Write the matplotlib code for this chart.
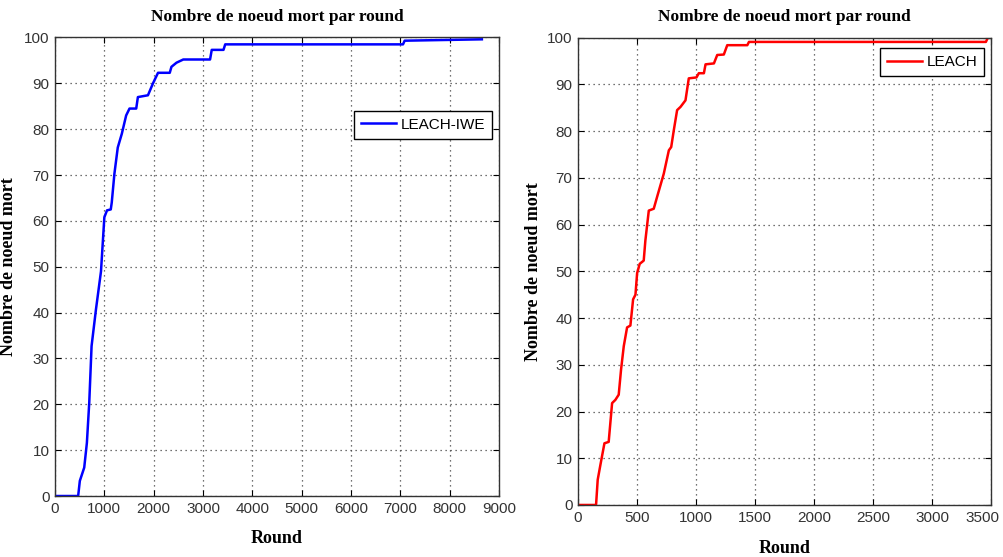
import matplotlib
matplotlib.use("Agg")
import matplotlib.pyplot as plt
from matplotlib import font_manager
from matplotlib.transforms import ScaledTranslation

# LEACH-IWE : rounds / noeuds morts
iwe_round = [0, 469, 503, 592, 646, 694, 741, 830, 932, 1000, 1054, 1130, 1150,
             1204, 1272, 1354, 1442, 1510, 1646, 1680, 1884, 1986, 2088, 2326,
             2360, 2462, 2600, 3143, 3177, 3415, 3450, 7054, 7088, 8653]
iwe_dead = [0, 0, 3.3, 6.2, 11.6, 20.4, 32.7, 40.7, 49, 60.8, 62.3, 62.5, 64,
            70.3, 76, 79, 83, 84.5, 84.5, 87, 87.4, 90, 92.3, 92.3,
            93.6, 94.5, 95.2, 95.2, 97.3, 97.3, 98.5, 98.5, 99.3, 99.6]

# LEACH
leach_round = [0, 153, 167, 190, 224, 260, 289, 317, 345, 365, 388, 416, 444,
               467, 487, 501, 523, 557, 571, 600, 642, 670, 727, 770, 790, 812,
               840, 869, 911, 939, 1004, 1024, 1067, 1081, 1152, 1180, 1236,
               1265, 1435, 1449, 3457, 3472]
leach_dead = [0, 0, 5.4, 8.6, 13.2, 13.5, 21.8, 22.5, 23.6, 29, 34, 38, 38.4,
              44, 45, 49.6, 51.6, 52.3, 56.6, 63, 63.4, 65.9, 70.9, 75.9, 76.6,
              80.2, 84.5, 85.2, 86.6, 91.3, 91.5, 92.4, 92.4, 94.3, 94.5, 96.3,
              96.4, 98.4, 98.4, 99.1, 99.1, 99.9]

installed = {f.name for f in font_manager.fontManager.ttflist}
tick_font = "Liberation Sans Narrow" if "Liberation Sans Narrow" in installed else "Liberation Sans"
serif = ["Liberation Serif", "DejaVu Serif"]

fig = plt.figure(figsize=(10.04, 5.57), dpi=100)
ax1 = fig.add_axes([0.0548, 0.1095, 0.4422, 0.8232])
ax2 = fig.add_axes([0.5757, 0.0934, 0.4113, 0.8389])


def style(ax, xmax, xstep, lx, ly):
    ax.set_xlim(0, xmax)
    ax.set_ylim(0, 100)
    ax.set_xticks(range(0, xmax + 1, xstep))
    ax.set_yticks(range(0, 101, 10))
    ax.grid(True, linestyle=(0, (1, 3)), color="#444444", linewidth=0.9)
    ax.tick_params(direction="in", top=True, right=True, length=4, width=0.8,
                   labelsize=11, colors="black", pad=4)
    for lab in ax.get_xticklabels() + ax.get_yticklabels():
        lab.set_fontfamily(tick_font)
        lab.set_color("#333333")
    for s in ax.spines.values():
        s.set_linewidth(1.0)
        s.set_color("#333333")
    ax.set_title("Nombre de noeud mort par round", family=serif,
                 fontweight="bold", fontsize=12.5, pad=12)
    ax.set_xlabel("Round", family=serif, fontweight="bold", fontsize=13)
    ax.set_ylabel("Nombre de noeud mort", family=serif, fontweight="bold", fontsize=13)
    ax.xaxis.set_label_coords(0.5, lx)
    ax.yaxis.set_label_coords(ly, 0.5)


def legend(ax, anchor):
    leg = ax.legend(loc="upper right", bbox_to_anchor=anchor, borderaxespad=0,
                    prop={"family": tick_font, "size": 11}, fancybox=False,
                    edgecolor="black", framealpha=1, handlelength=2.3,
                    borderpad=0.45, handletextpad=0.3)
    leg.get_frame().set_linewidth(1.0)


ax1.plot(iwe_round, iwe_dead, color="#0000ff", linewidth=1.8, label="LEACH-IWE")
style(ax1, 9000, 1000, -0.075, -0.086)
legend(ax1, (0.984, 0.84))

ax2.plot(leach_round, leach_dead, color="#ff0000", linewidth=1.8, label="LEACH")
style(ax2, 3500, 500, -0.075, -0.087)
legend(ax2, (0.983, 0.978))

# le dernier label (3500) touche le bord : on le decale un peu vers la gauche
last = ax2.xaxis.get_major_ticks()[-1].label1
last.set_transform(last.get_transform() + ScaledTranslation(-6 / 72, 0, fig.dpi_scale_trans))

fig.savefig("out.png", dpi=100)
